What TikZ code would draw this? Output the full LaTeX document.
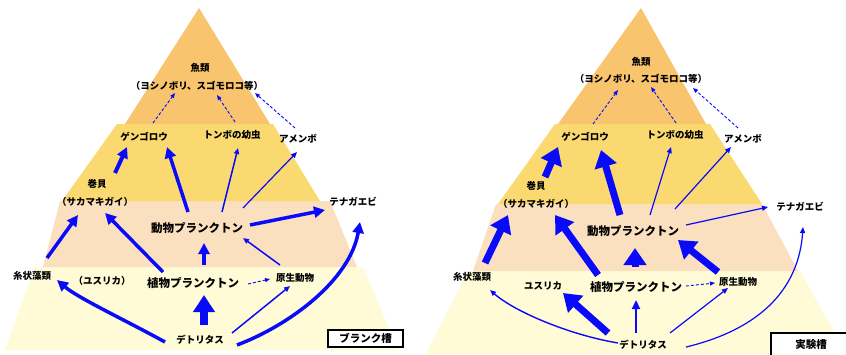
\documentclass[tikz,border=0pt]{standalone}
\usepackage{fontspec}
\setmainfont{Noto Sans CJK JP}
\usetikzlibrary{arrows.meta}
\definecolor{bandO}{RGB}{248,196,110}
\definecolor{bandY}{RGB}{250,218,112}
\definecolor{bandP}{RGB}{251,224,192}
\definecolor{bandW}{RGB}{254,251,214}
\definecolor{arblue}{RGB}{10,10,250}
\begin{document}
\begin{tikzpicture}[x=1pt,y=-1pt,
  lbl/.style={inner sep=0pt, font=\fontsize{9.5}{10}\selectfont\bfseries},
  big/.style={inner sep=0pt, font=\fontsize{11.5}{12}\selectfont\bfseries},
  tag/.style={draw, line width=1.2pt, fill=white, inner sep=0pt, font=\fontsize{10.5}{11}\selectfont\bfseries},
  ar/.style={draw=arblue},
  dsh/.style={ar, line width=0.9pt, dash pattern=on 3pt off 2pt, -{Triangle[length=5pt,width=4pt]}},
  thn/.style={ar, line width=1.2pt, -{Triangle[length=6pt,width=5pt]}},
  med/.style={ar, line width=2.4pt, -{Triangle[length=9pt,width=8pt]}},
  thk/.style={ar, line width=3.5pt, -{Triangle[length=11pt,width=11pt]}},
  vthk/.style={ar, line width=7pt, -{Triangle[length=17pt,width=22pt]}},
  huge/.style={ar, line width=8pt, -{Triangle[length=17pt,width=21pt]}},
]
\useasboundingbox[fill=white] (0,0) rectangle (846,354);

% ---------- left pyramid bands ----------
\fill[bandW] (35,267) -- (363,267) -- (398,350) -- (5,350) -- cycle;
\fill[bandP] (60,201) -- (330,201) -- (357,267) -- (43,267) -- cycle;
\fill[bandY] (117,124) -- (273,124) -- (320,201) -- (62,201) -- cycle;
\fill[bandO] (199,8) -- (270,124) -- (125,124) -- cycle;

% ---------- right pyramid bands ----------
\fill[bandW] (468,271) -- (800,271) -- (846,354) -- (426,354) -- cycle;
\fill[bandP] (496,204) -- (762,204) -- (798,271) -- (473,271) -- cycle;
\fill[bandY] (555,124) -- (710,124) -- (762,204) -- (498,204) -- cycle;
\fill[bandO] (641,8) -- (706,124) -- (558,124) -- cycle;

% ---------- left labels ----------
\node[lbl] (Lfish) at (200,68) {魚類};
\node[lbl] (Lfishsub) at (197,86) {（ヨシノボリ、スゴモロコ等）};
\node[lbl] (Lgen) at (144,137) {ゲンゴロウ};
\node[lbl] (Ltom) at (232,135) {トンボの幼虫};
\node[lbl] (Lame) at (298,139) {アメンボ};
\node[lbl] (Lmaki) at (97,184) {巻貝};
\node[lbl] (Lsaka) at (95,202) {（サカマキガイ）};
\node[lbl] (Lten) at (353,202) {テナガエビ};
\node[big] (Lzoo) at (197,228) {動物プランクトン};
\node[lbl] (Lito) at (32,276) {糸状藻類};
\node[lbl] (Lyus) at (102,281) {（ユスリカ）};
\node[big] (Lphy) at (193,283) {植物プランクトン};
\node[lbl] (Lgen2) at (295,278) {原生動物};
\node[lbl] (Ldet) at (200,340) {デトリタス};
\node[tag, minimum width=75pt, minimum height=17pt] (Lbox) at (365.5,338.5) {ブランク槽};

% ---------- right labels ----------
\node[lbl] (Rfish) at (641,62) {魚類};
\node[lbl] (Rfishsub) at (641,79) {（ヨシノボリ、スゴモロコ等）};
\node[lbl] (Rgen) at (585,137) {ゲンゴロウ};
\node[lbl] (Rtom) at (675,135) {トンボの幼虫};
\node[lbl] (Rame) at (743,139) {アメンボ};
\node[lbl] (Rmaki) at (536,186) {巻貝};
\node[lbl] (Rsaka) at (536,204) {（サカマキガイ）};
\node[lbl] (Rten) at (800,207) {テナガエビ};
\node[big] (Rzoo) at (633,231) {動物プランクトン};
\node[lbl] (Rito) at (472,277) {糸状藻類};
\node[lbl] (Ryus) at (543,286) {ユスリカ};
\node[big] (Rphy) at (636,287) {植物プランクトン};
\node[lbl] (Rgen2) at (738,282) {原生動物};
\node[lbl] (Rdet) at (643,345) {デトリタス};
\node[tag, minimum width=80pt, minimum height=24pt] (Rbox) at (811,345) {実験槽};

% ---------- left arrows ----------
\draw[dsh] ([shift={(9,-14)}]Lgen.center) -- ([shift={(-22,7)}]Lfishsub.center);
\draw[dsh] ([shift={(3,-13)}]Ltom.center) -- ([shift={(20,9)}]Lfishsub.center);
\draw[dsh] ([shift={(-3,-11)}]Lame.center) -- ([shift={(58,7)}]Lfishsub.center);
\draw[thk, line width=4pt] ([shift={(18,-11)}]Lmaki.center) -- ([shift={(-17,10)}]Lgen.center);
\draw[thk] ([shift={(-9,-16)}]Lzoo.center) -- ([shift={(23,10)}]Lgen.center);
\draw[thn, line width=1.5pt] ([shift={(25,-16)}]Lzoo.center) -- ([shift={(6,13)}]Ltom.center);
\draw[thn] ([shift={(46,-20)}]Lzoo.center) -- ([shift={(-1,13)}]Lame.center);
\draw[thk] ([shift={(53,-3)}]Lzoo.center) -- ([shift={(-28,8)}]Lten.center);
\draw[thk] ([shift={(15,-18)}]Lito.center) -- ([shift={(-17,13)}]Lsaka.center);
\draw[thk] ([shift={(-30,-11)}]Lphy.center) -- ([shift={(10,11)}]Lsaka.center);
\draw[thk] ([shift={(11,-18)}]Lphy.center) -- ([shift={(7,15)}]Lzoo.center);
\draw[thn, line width=1.5pt] ([shift={(-15,-13)}]Lgen2.center) -- ([shift={(46,10)}]Lzoo.center);
\draw[dsh] ([shift={(55,1)}]Lphy.center) -- ([shift={(-25,1)}]Lgen2.center);
\draw[thk] ([shift={(-35,2)}]Ldet.center) .. controls (125,320) and (78,298) .. ([shift={(25,4)}]Lito.center);
\draw[huge] ([shift={(4,-15)}]Ldet.center) -- ([shift={(11,12)}]Lphy.center);
\draw[thn, line width=1.5pt] ([shift={(32,-7)}]Ldet.center) -- ([shift={(-5,8)}]Lgen2.center);
\draw[thk] ([shift={(37,5)}]Ldet.center) .. controls (290,325) and (350,280) .. ([shift={(7,20)}]Lten.center);

% ---------- right arrows ----------
\draw[dsh] ([shift={(8,-13)}]Rgen.center) -- ([shift={(-23,11)}]Rfishsub.center);
\draw[dsh] ([shift={(1,-12)}]Rtom.center) -- ([shift={(10,8)}]Rfishsub.center);
\draw[dsh] ([shift={(-5,-11)}]Rame.center) -- ([shift={(52,9)}]Rfishsub.center);
\draw[vthk] ([shift={(9,-9)}]Rmaki.center) -- ([shift={(-27,10)}]Rgen.center);
\draw[vthk] ([shift={(-13,-16)}]Rzoo.center) -- ([shift={(16,13)}]Rgen.center);
\draw[thn] ([shift={(17,-16)}]Rzoo.center) -- ([shift={(-4,12)}]Rtom.center);
\draw[thn] ([shift={(42,-22)}]Rzoo.center) -- ([shift={(-12,8)}]Rame.center);
\draw[thn] ([shift={(53,-6)}]Rzoo.center) -- ([shift={(-32,0)}]Rten.center);
\draw[vthk] ([shift={(13,-14)}]Rito.center) -- ([shift={(-28,11)}]Rsaka.center);
\draw[vthk] ([shift={(-38,-12)}]Rphy.center) -- ([shift={(19,11)}]Rsaka.center);
\draw[vthk] ([shift={(-1,-20)}]Rphy.center) -- ([shift={(2,17)}]Rzoo.center);
\draw[vthk] ([shift={(-20,-10)}]Rgen2.center) -- ([shift={(45,9)}]Rzoo.center);
\draw[dsh] ([shift={(50,-1)}]Rphy.center) -- ([shift={(-23,1)}]Rgen2.center);
\draw[thn, line width=1.4pt] ([shift={(-25,-2)}]Rdet.center) .. controls (570,335) and (515,312) .. ([shift={(18,13)}]Rito.center);
\draw[vthk] ([shift={(-35,-12)}]Rdet.center) -- ([shift={(20,7)}]Ryus.center);
\draw[med] ([shift={(-7,-12)}]Rdet.center) -- ([shift={(0,13)}]Rphy.center);
\draw[thn] ([shift={(27,-12)}]Rdet.center) -- ([shift={(-10,6)}]Rgen2.center);
\draw[thn] ([shift={(43,2)}]Rdet.center) .. controls (745,333) and (798,300) .. ([shift={(3,20)}]Rten.center);
\end{tikzpicture}
\end{document}
